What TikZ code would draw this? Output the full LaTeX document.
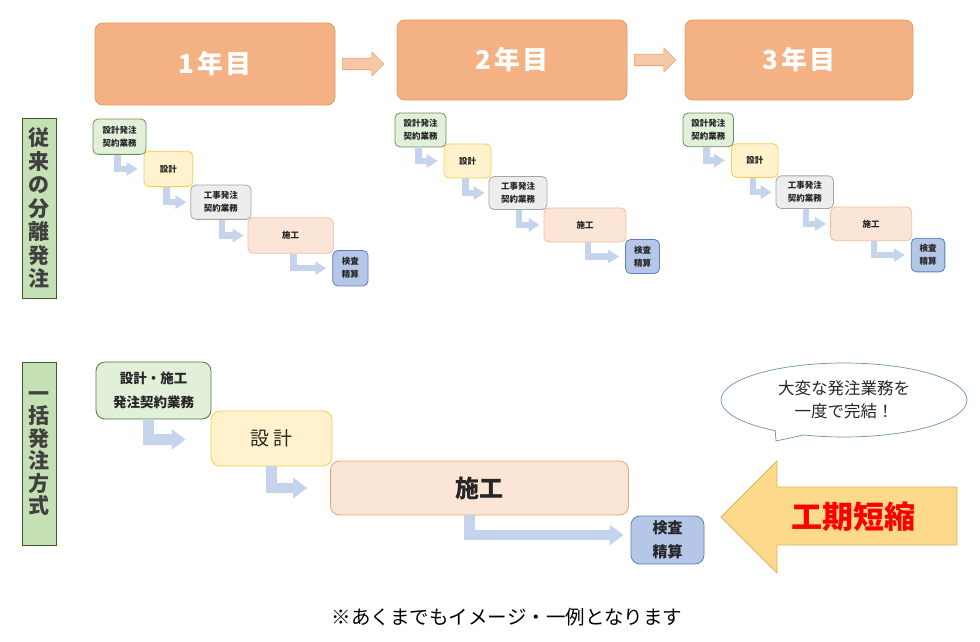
\documentclass[tikz,border=0pt]{standalone}
\usepackage{fontspec}
\setmainfont{Noto Sans CJK JP}
\usepackage{tikz}
\usetikzlibrary{arrows.meta,positioning,shapes.arrows,shapes.callouts}

\definecolor{yearfill}{HTML}{F4B183}
\definecolor{yeardraw}{HTML}{E39A63}
\definecolor{sidefill}{HTML}{C5E0B4}
\definecolor{sidedraw}{HTML}{3A5A28}
\definecolor{orderfill}{HTML}{E2F0D9}
\definecolor{orderdraw}{HTML}{6E8E55}
\definecolor{designfill}{HTML}{FFF2CC}
\definecolor{designdraw}{HTML}{F5CF55}
\definecolor{workfill}{HTML}{EDEDED}
\definecolor{workdraw}{HTML}{A5A5A5}
\definecolor{buildfill}{HTML}{FBE5D6}
\definecolor{builddraw}{HTML}{EDA272}
\definecolor{checkfill}{HTML}{B4C7E7}
\definecolor{checkdraw}{HTML}{5B7FC0}
\definecolor{flowblue}{HTML}{C3D4EC}
\definecolor{bigfill}{HTML}{FDD98B}
\definecolor{bigdraw}{HTML}{E0B060}
\definecolor{textgray}{HTML}{262626}
\definecolor{sidetext}{HTML}{404040}
\definecolor{calloutdraw}{HTML}{6D90B5}

\begin{document}
\begin{tikzpicture}[x=1pt,y=-1pt,
  yearbox/.style={draw=yeardraw,fill=yearfill,rounded corners=8pt,line width=0.8pt,
    text=white,font=\fontsize{26}{30}\selectfont\bfseries},
  yeararrow/.style={single arrow,draw=yeardraw,fill=yearfill!70,line width=0.6pt,
    minimum height=41,minimum width=23,single arrow head extend=6,inner xsep=0pt,inner ysep=5.5pt},
  sidebox/.style={draw=sidedraw,fill=sidefill,line width=1pt,minimum width=34,
    align=center,inner sep=0pt,text=sidetext},
  smallbox/.style={draw,rounded corners=5pt,line width=0.8pt,align=center,inner sep=1pt,
    text=textgray,font=\fontsize{8.5}{13}\selectfont\bfseries},
  bigbox/.style={draw,rounded corners=9pt,line width=0.8pt,align=center,inner sep=1pt,
    text=textgray},
  flow/.style={draw=flowblue,line width=6.5pt,-{Triangle[width=13pt,length=11pt]}},
  bigflow/.style={draw=flowblue,line width=10.5pt,-{Triangle[width=20pt,length=14pt]}}]
\useasboundingbox (0,0) rectangle (980,642);

% Years
\node[yearbox,minimum width=240,minimum height=82] (y1) at (215,64) {1\kern3pt 年\kern2pt 目};
\node[yearbox,minimum width=230,minimum height=80] (y2) at (512,60) {2\kern3pt 年\kern2pt 目};
\node[yearbox,minimum width=228,minimum height=80] (y3) at (799,60) {3\kern3pt 年\kern2pt 目};
\node[yeararrow,right=7pt of y1] (ya1) {};
\node[yeararrow,right=7pt of y2] (ya2) {};

% Side labels
\node[sidebox,minimum height=180,font=\fontsize{21}{23.5}\selectfont\bfseries] (side1) at (39,208)
  {従\\来\\の\\分\\離\\発\\注};
\node[sidebox,minimum height=183,font=\fontsize{21}{22.5}\selectfont\bfseries] (side2) at (39,453.5)
  {一\\括\\発\\注\\方\\式};

% Separate ordering, one column per year
\foreach \ox/\oy/\s [count=\c] in {93/119/1.04, 395/113/1, 683/113/0.99} {
  \node[smallbox,fill=orderfill,draw=orderdraw,minimum width=51*\s,minimum height=34*\s]
    (k\c-1) at (\ox+25.5*\s,\oy+17*\s) {設計発注\\契約業務};
  \node[smallbox,fill=designfill,draw=designdraw,minimum width=47*\s,minimum height=34*\s]
    (k\c-2) at (\ox+72.5*\s,\oy+48*\s) {設計};
  \node[smallbox,fill=workfill,draw=workdraw,minimum width=58*\s,minimum height=33*\s]
    (k\c-3) at (\ox+123*\s,\oy+80*\s) {工事発注\\契約業務};
  \node[smallbox,fill=buildfill,draw=builddraw!70,minimum width=82*\s,minimum height=34*\s]
    (k\c-4) at (\ox+190*\s,\oy+112*\s) {施工};
  \node[smallbox,fill=checkfill,draw=checkdraw,minimum width=34*\s,minimum height=34*\s]
    (k\c-5) at (\ox+247.5*\s,\oy+143.5*\s) {検査\\精算};
  \draw[flow] ([xshift=-2pt]k\c-1.south) |- ([xshift=-6pt]k\c-2.west);
  \draw[flow] ([xshift=-2pt]k\c-2.south) |- ([xshift=-4pt]k\c-3.west);
  \draw[flow] ([xshift=1pt]k\c-3.south) |- ([xshift=-4pt]k\c-4.west);
  \draw[flow] ([xshift=3pt]k\c-4.south) |- ([xshift=-6pt]k\c-5.west);
}

% Single ordering
\node[bigbox,fill=orderfill,draw=orderdraw!80!black,minimum width=115,minimum height=57,
  font=\fontsize{13.5}{24}\selectfont\bfseries] (b1) at (153.5,390.5) {設計・施工\\発注契約業務};
\node[bigbox,fill=designfill,draw=designdraw,minimum width=121,minimum height=55,
  font=\fontsize{19}{22}\selectfont] (b2) at (271.5,438.5) {設\,計};
\node[bigbox,fill=buildfill,draw=builddraw,minimum width=298,minimum height=54,
  font=\fontsize{24}{28}\selectfont\bfseries] (b3) at (479.5,488) {施工};
\node[bigbox,fill=checkfill,draw=checkdraw,minimum width=73,minimum height=48,
  font=\fontsize{15}{24}\selectfont\bfseries] (b4) at (667.5,540) {検査\\精算};
\draw[bigflow] ([xshift=-5pt]b1.south) |- ([xshift=-25pt,yshift=-1pt]b2.west);
\draw[bigflow] (b2.south) |- ([xshift=-23pt]b3.west);
\draw[bigflow] ([xshift=-10pt]b3.south) |- ([xshift=-7pt,yshift=5pt]b4.west);

% Callout and big arrow
\node[ellipse callout,draw=calloutdraw,fill=white,line width=0.7pt,minimum width=246,
  minimum height=74,callout absolute pointer={(776,441)},align=center,
  font=\fontsize{16.5}{23}\selectfont,text=textgray] (memo) at (844,400)
  {大変な発注業務を\\一度で完結！};
\draw[draw=bigdraw,fill=bigfill,line width=0.8pt]
  (957,487) -- (777,487) -- (777,461) -- (721,517) -- (777,573) -- (777,545) -- (957,545) -- cycle;
\node[text=red,font=\fontsize{31}{34}\selectfont\bfseries] (short) at (853,517) {工期短縮};

% Note
\node[font=\fontsize{19.5}{22}\selectfont,text=black] (note) at (507,617)
  {※あくまでもイメージ・一例となります};
\end{tikzpicture}
\end{document}
